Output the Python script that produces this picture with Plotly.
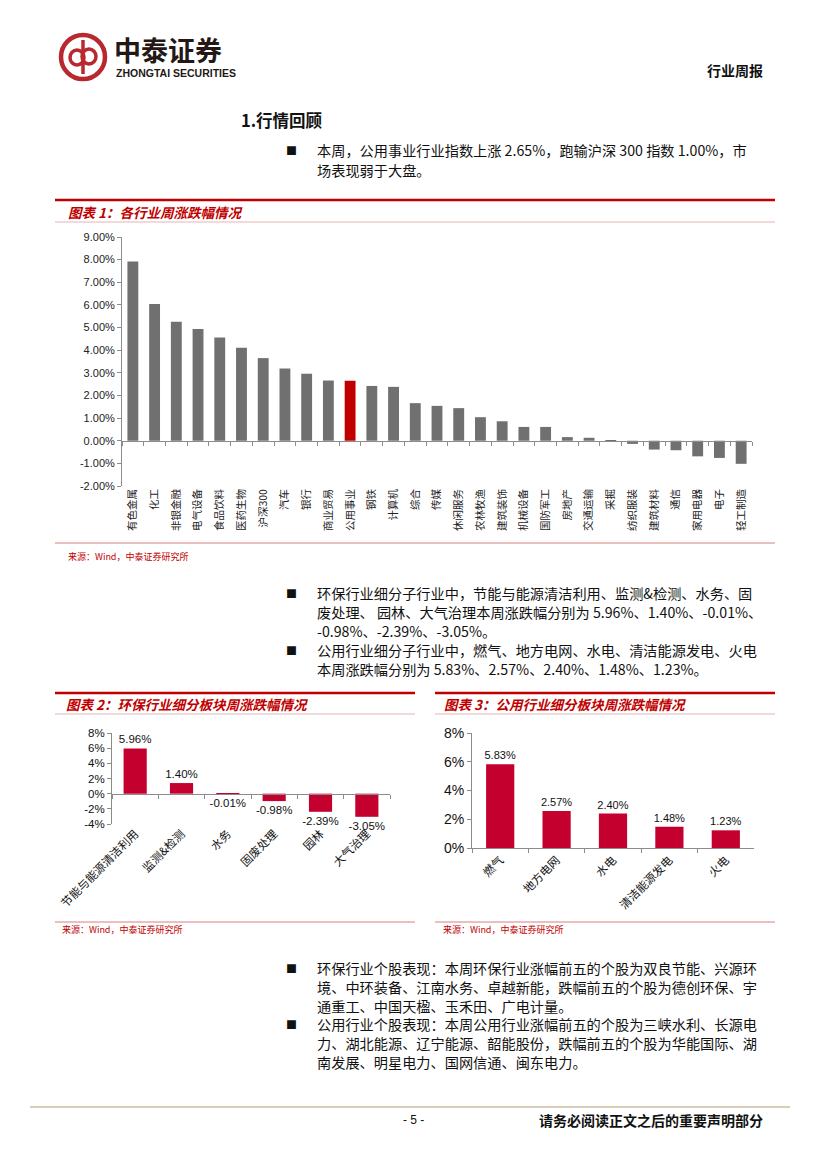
import plotly.graph_objects as go

# ---------------- data ----------------
industries = ['有色金属', '化工', '非银金融', '电气设备', '食品饮料', '医药生物', '沪深300', '汽车', '银行',
              '商业贸易', '公用事业', '钢铁', '计算机', '综合', '传媒', '休闲服务', '农林牧渔', '建筑装饰',
              '机械设备', '国防军工', '房地产', '交通运输', '采掘', '纺织服装', '建筑材料', '通信', '家用电器',
              '电子', '轻工制造']
industry_chg = [7.92, 6.04, 5.26, 4.94, 4.56, 4.11, 3.65, 3.19, 2.96, 2.66, 2.65, 2.42, 2.38, 1.66, 1.54,
                1.44, 1.04, 0.86, 0.61, 0.61, 0.16, 0.13, -0.01, -0.14, -0.39, -0.42, -0.69, -0.76, -1.02]
highlight = '公用事业'

env_sectors = ['节能与能源清洁利用', '监测&检测', '水务', '固废处理', '园林', '大气治理']
env_chg = [5.96, 1.40, -0.01, -0.98, -2.39, -3.05]

util_sectors = ['燃气', '地方电网', '水电', '清洁能源发电', '火电']
util_chg = [5.83, 2.57, 2.40, 1.48, 1.23]

y1_ticks = [9, 8, 7, 6, 5, 4, 3, 2, 1, 0, -1, -2]
y2_ticks = [8, 6, 4, 2, 0, -2, -4]
y3_ticks = [8, 6, 4, 2, 0]

# ---------------- style ----------------
W, H = 827, 1169
GREY = '#707070'
RED1 = '#C00000'
RED2 = '#C4002F'
TITLE_RED = '#C00000'
CJK = 'Noto Sans CJK SC'
LAT = 'Liberation Sans, Arial, sans-serif'
BODY = 14.2


def px(x):
    return x / W


def py(y):
    return 1 - y / H


fig = go.Figure()

# chart 1
fig.add_trace(go.Bar(
    x=industries, y=industry_chg, xaxis='x', yaxis='y',
    marker=dict(color=[RED1 if c == highlight else GREY for c in industries], line=dict(width=0)),
    hoverinfo='skip', showlegend=False))
# chart 2
fig.add_trace(go.Bar(
    x=env_sectors, y=env_chg, xaxis='x2', yaxis='y2',
    marker=dict(color=RED2, line=dict(width=0)),
    texttemplate='%{y:.2f}%', textposition='outside', cliponaxis=False, constraintext='none',
    textfont=dict(family=LAT, size=11.5, color='#111'),
    hoverinfo='skip', showlegend=False))
# chart 3
fig.add_trace(go.Bar(
    x=util_sectors, y=util_chg, xaxis='x3', yaxis='y3',
    marker=dict(color=RED2, line=dict(width=0)),
    texttemplate='%{y:.2f}%', textposition='outside', cliponaxis=False, constraintext='none',
    textfont=dict(family=LAT, size=11, color='#111'),
    hoverinfo='skip', showlegend=False))

# invisible anchors for zero-line tick axes
for xa, ya in (('x4', 'y'), ('x5', 'y2')):
    fig.add_trace(go.Scatter(x=[0], y=[0], xaxis=xa, yaxis=ya, mode='markers',
                             marker=dict(opacity=0), hoverinfo='skip', showlegend=False))

# domains
d1x = [px(122), px(752)]
d1y = [py(486), py(237)]
d2x = [px(112), px(390)]
d2y = [py(824), py(733)]
d3x = [px(472), px(754)]
d3y = [py(848), py(733)]

r1 = [-2, 9]
r2 = [-4, 8]
r3 = [0, 8]


def zero_pos(dy, r):
    return dy[0] + (0 - r[0]) / (r[1] - r[0]) * (dy[1] - dy[0])


axis_line = '#8C8C8C'
cat_font1 = dict(family=CJK, size=10.5, color='#222')
cat_font2 = dict(family=CJK, size=11.5, color='#111')

common = dict(automargin=False, showgrid=False, zeroline=False, fixedrange=True)

fig.update_layout(
    template='none',
    width=W, height=H, margin=dict(l=0, r=0, t=0, b=0, pad=0), autosize=False,
    paper_bgcolor='white', plot_bgcolor='rgba(0,0,0,0)',
    bargap=0.5,
    xaxis=dict(domain=d1x, anchor='y', type='category', showline=False, ticks='',
               tickangle=-90, tickfont=cat_font1, **common),
    yaxis=dict(domain=d1y, anchor='x', range=r1, tickvals=y1_ticks,
               ticktext=[f'{v:.2f}%' for v in y1_ticks],
               showline=True, linecolor=axis_line, ticks='outside', ticklen=4, tickcolor=axis_line,
               tickfont=dict(family=LAT, size=11, color='#222'), **common),
    xaxis4=dict(domain=d1x, anchor='free', overlaying='x', position=zero_pos(d1y, r1),
                range=[-0.5, len(industries) - 0.5], tickvals=[i - 0.5 for i in range(len(industries) + 1)],
                showticklabels=False, showline=True, linecolor=axis_line, ticks='outside', ticklen=4,
                tickcolor=axis_line, **common),

    xaxis2=dict(domain=d2x, anchor='y2', type='category', showline=False, ticks='',
                tickangle=-45, tickfont=cat_font2, **common),
    yaxis2=dict(domain=d2y, anchor='x2', range=r2, tickvals=y2_ticks,
                ticktext=[f'{v}%' for v in y2_ticks],
                showline=True, linecolor=axis_line, ticks='outside', ticklen=4, tickcolor=axis_line,
                tickfont=dict(family=LAT, size=11.5, color='#111'), **common),
    xaxis5=dict(domain=d2x, anchor='free', overlaying='x2', position=zero_pos(d2y, r2),
                range=[-0.5, len(env_sectors) - 0.5], tickvals=[i - 0.5 for i in range(len(env_sectors) + 1)],
                showticklabels=False, showline=True, linecolor=axis_line, ticks='outside', ticklen=4,
                tickcolor=axis_line, **common),

    xaxis3=dict(domain=d3x, anchor='y3', type='category', showline=True, linecolor=axis_line,
                ticks='outside', ticklen=4, tickcolor=axis_line, tickson='boundaries',
                tickangle=-45, tickfont=cat_font2, **common),
    yaxis3=dict(domain=d3y, anchor='x3', range=r3, tickvals=y3_ticks,
                ticktext=[f'{v}%' for v in y3_ticks],
                showline=True, linecolor=axis_line, ticks='outside', ticklen=4, tickcolor=axis_line,
                tickfont=dict(family=LAT, size=14, color='#111'), **common),
)

shapes = []
ann = []


def hline(x0, x1, y, color, width):
    shapes.append(dict(type='line', xref='paper', yref='paper', x0=px(x0), x1=px(x1), y0=py(y), y1=py(y),
                       line=dict(color=color, width=width)))


def text(x, y, s, size=13, color='#111', family=CJK, xanchor='left', bold=False):
    if bold:
        s = f'<b>{s}</b>'
    ann.append(dict(xref='paper', yref='paper', x=px(x), y=py(y), text=s, showarrow=False,
                    xanchor=xanchor, yanchor='middle', font=dict(family=family, size=size, color=color)))


# ---- header / logo ----
LOGO = '#B8282E'
shapes.append(dict(type='circle', xref='paper', yref='paper', x0=px(61), x1=px(105), y0=py(79), y1=py(35),
                   line=dict(color=LOGO, width=4.5)))
shapes.append(dict(type='circle', xref='paper', yref='paper', x0=px(70), x1=px(84), y0=py(65), y1=py(50),
                   line=dict(color=LOGO, width=3.5)))
shapes.append(dict(type='circle', xref='paper', yref='paper', x0=px(82), x1=px(96), y0=py(64), y1=py(49),
                   line=dict(color=LOGO, width=3.5)))
shapes.append(dict(type='line', xref='paper', yref='paper', x0=px(83), x1=px(83), y0=py(40), y1=py(74),
                   line=dict(color=LOGO, width=3.5)))
text(112, 49, '中泰证券', size=27, color='#231815', bold=True)
text(114, 73, 'ZHONGTAI SECURITIES', size=10.5, color='#231815',
     family='Liberation Sans Narrow, Arial Narrow, Liberation Sans', bold=True)
text(765, 70, '行业周报', size=14, color='#111', xanchor='right', bold=True)

# ---- section 1 ----
text(239, 120, '1.行情回顾', size=16.5, color='#111', bold=True)
text(284, 150, '■', size=11)
text(315, 150, '本周，公用事业行业指数上涨 2.65%，跑输沪深 300 指数 1.00%，市', size=BODY)
text(315, 170, '场表现弱于大盘。', size=BODY)

# ---- chart 1 frame ----
hline(55, 775, 200, RED1, 2.5)
hline(55, 775, 222, '#E3B5B5', 1)
text(66, 212, '<b><i>图表 1：各行业周涨跌幅情况</i></b>', size=13.5, color=TITLE_RED)
hline(55, 775, 543, '#D98080', 1)
text(66, 556, '来源：Wind，中泰证券研究所', size=9, color=TITLE_RED)

# ---- middle paragraphs ----
text(284, 593, '■', size=11)
text(315, 593, '环保行业细分子行业中，节能与能源清洁利用、监测&检测、水务、固', size=BODY)
text(315, 612, '废处理、 园林、大气治理本周涨跌幅分别为 5.96%、1.40%、-0.01%、', size=BODY)
text(315, 631, '-0.98%、-2.39%、-3.05%。', size=BODY)
text(284, 650, '■', size=11)
text(315, 650, '公用行业细分子行业中，燃气、地方电网、水电、清洁能源发电、火电', size=BODY)
text(315, 669, '本周涨跌幅分别为 5.83%、2.57%、2.40%、1.48%、1.23%。', size=BODY)

# ---- chart 2 frame ----
hline(55, 415, 693, RED1, 2.5)
hline(55, 415, 714, '#E3B5B5', 1)
text(64, 704, '<b><i>图表 2：环保行业细分板块周涨跌幅情况</i></b>', size=13.5, color=TITLE_RED)
hline(55, 415, 922, '#D98080', 1)
text(60, 929, '来源：Wind，中泰证券研究所', size=9, color=TITLE_RED)

# ---- chart 3 frame ----
hline(435, 775, 693, RED1, 2.5)
hline(435, 775, 714, '#E3B5B5', 1)
text(442, 704, '<b><i>图表 3：公用行业细分板块周涨跌幅情况</i></b>', size=13.5, color=TITLE_RED)
hline(435, 775, 922, '#D98080', 1)
text(441, 929, '来源：Wind，中泰证券研究所', size=9, color=TITLE_RED)

# ---- bottom paragraphs ----
text(284, 968, '■', size=11)
text(315, 968, '环保行业个股表现：本周环保行业涨幅前五的个股为双良节能、兴源环', size=BODY)
text(315, 987, '境、中环装备、江南水务、卓越新能，跌幅前五的个股为德创环保、宇', size=BODY)
text(315, 1006, '通重工、中国天楹、玉禾田、广电计量。', size=BODY)
text(284, 1024, '■', size=11)
text(315, 1024, '公用行业个股表现：本周公用行业涨幅前五的个股为三峡水利、长源电', size=BODY)
text(315, 1043, '力、湖北能源、辽宁能源、韶能股份，跌幅前五的个股为华能国际、湖', size=BODY)
text(315, 1062, '南发展、明星电力、国网信通、闽东电力。', size=BODY)

# ---- footer ----
hline(30, 790, 1107, '#D9CCB8', 2)
text(413, 1120, '- 5 -', size=12, family=LAT, xanchor='center')
text(765, 1120, '请务必阅读正文之后的重要声明部分', size=14, xanchor='right', bold=True)

fig.update_layout(shapes=shapes, annotations=ann)

fig.write_html('out.html', config={'displayModeBar': False},
               post_script="document.body.style.margin='0px';")
